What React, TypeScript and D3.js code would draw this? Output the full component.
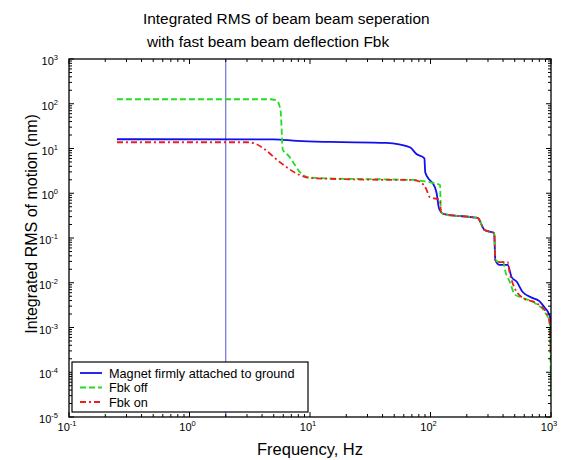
import React from "react";
import * as d3 from "d3";

const titleLines = ["Integrated RMS of beam beam seperation", "with fast beam beam deflection Fbk"];
const xLabel = "Frequency, Hz";
const yLabel = "Integrated RMS of motion (nm)";
const xDecades = [-1, 0, 1, 2, 3];
const yDecades = [-5, -4, -3, -2, -1, 0, 1, 2, 3];
const markerFreq = 2;

const seriesNames = ["Magnet firmly attached to ground", "Fbk off", "Fbk on"];

const blueData: [number, number][] = [
  [0.25, 16.1], [5, 16.0], [7.8, 14.8], [15, 14.0], [43, 13.3], [55, 12.3], [68, 10.5], [77, 7.4],
  [86, 6.5], [89, 6.0], [90.5, 2.9], [98, 2.0], [104, 1.7], [112, 1.05], [118, 0.45], [130, 0.34],
  [175, 0.31], [246, 0.28], [281, 0.151], [338, 0.129], [345, 0.032], [375, 0.025], [437, 0.025],
  [471, 0.0134], [520, 0.0105], [582, 0.0062], [700, 0.0046], [800, 0.0039], [885, 0.0028],
  [970, 0.0019], [995, 0.0014], [1000, 0.0007],
];

const greenData: [number, number][] = [
  [0.25, 126], [4.65, 126], [5.3, 118], [5.7, 70], [5.95, 9.3], [6.6, 7.0], [8.7, 2.56], [10, 2.25],
  [14, 2.15], [40, 2.05], [71, 1.98], [100, 1.75], [120, 1.53], [122, 0.38], [136, 0.33],
  [175, 0.31], [246, 0.28], [281, 0.151], [338, 0.129], [345, 0.032], [375, 0.029], [400, 0.029],
  [420, 0.017], [455, 0.0105], [500, 0.0055], [582, 0.0046], [760, 0.0033], [900, 0.0021],
  [973, 0.0013], [1000, 0.00003],
];

const redData: [number, number][] = [
  [0.25, 13.8], [3.0, 13.8], [3.6, 12.5], [4.06, 10.3], [5.6, 5.0], [8.2, 2.56], [10, 2.19],
  [40, 2.0], [71, 1.98], [82, 1.8], [93, 1.18], [98.5, 0.82], [120, 0.71], [122, 0.38], [136, 0.33],
  [175, 0.31], [246, 0.28], [281, 0.151], [338, 0.129], [345, 0.032], [375, 0.029], [437, 0.029],
  [454, 0.0165], [480, 0.0099], [582, 0.0046], [760, 0.0035], [920, 0.0021], [973, 0.0013],
  [1000, 0.0002],
];

const W = 562, H = 460;
const L = 69, R = 551, T = 59, B = 417;

export default function App() {
  const x = d3.scaleLog().domain([0.1, 1000]).range([L, R]);
  const y = d3.scaleLog().domain([1e-5, 1e3]).range([B, T]);
  const line = d3.line<[number, number]>().x(d => x(d[0])).y(d => y(d[1])).curve(d3.curveMonotoneX);

  const xMinor: number[] = [];
  xDecades.slice(0, -1).forEach(e => { for (let k = 2; k <= 9; k++) xMinor.push(k * Math.pow(10, e)); });
  const yMinor: number[] = [];
  yDecades.slice(0, -1).forEach(e => { for (let k = 2; k <= 9; k++) yMinor.push(k * Math.pow(10, e)); });

  const font = "Liberation Sans, Arial, sans-serif";
  const series = [
    { data: blueData, color: "#1010ee", dash: "none", w: 1.8 },
    { data: greenData, color: "#22dd22", dash: "6,3", w: 1.8 },
    { data: redData, color: "#ee1c1c", dash: "6,3,2,3", w: 1.8 },
  ];

  return (
    <svg width={W} height={H} style={{ position: "absolute", left: 0, top: 0, background: "#fff" }} fontFamily={font}>
      <rect x={0} y={0} width={W} height={H} fill="#fff" />
      <text x={143} y={24} fontSize={15.4}>{titleLines[0]}</text>
      <text x={147} y={47} fontSize={15.4}>{titleLines[1]}</text>

      <defs>
        <clipPath id="plotclip"><rect x={L} y={T} width={R - L} height={B - T} /></clipPath>
      </defs>

      <line x1={x(markerFreq)} x2={x(markerFreq)} y1={T} y2={B} stroke="#5555cc" strokeWidth={1} />

      <g clipPath="url(#plotclip)">
        {series.map((s, i) => (
          <path key={i} d={line(s.data) || ""} fill="none" stroke={s.color} strokeWidth={s.w}
            strokeDasharray={s.dash === "none" ? undefined : s.dash} strokeLinejoin="round" />
        ))}
      </g>

      {/* ticks */}
      <g stroke="#000" strokeWidth={1}>
        {xDecades.map(e => {
          const px = x(Math.pow(10, e));
          return <g key={"xM" + e}><line x1={px} x2={px} y1={B} y2={B - 5} /><line x1={px} x2={px} y1={T} y2={T + 5} /></g>;
        })}
        {xMinor.map((v, i) => {
          const px = x(v);
          return <g key={"xm" + i}><line x1={px} x2={px} y1={B} y2={B - 3} /><line x1={px} x2={px} y1={T} y2={T + 3} /></g>;
        })}
        {yDecades.map(e => {
          const py = y(Math.pow(10, e));
          return <g key={"yM" + e}><line x1={L} x2={L + 5} y1={py} y2={py} /><line x1={R} x2={R - 5} y1={py} y2={py} /></g>;
        })}
        {yMinor.map((v, i) => {
          const py = y(v);
          return <g key={"ym" + i}><line x1={L} x2={L + 3} y1={py} y2={py} /><line x1={R} x2={R - 3} y1={py} y2={py} /></g>;
        })}
      </g>
      <rect x={L} y={T} width={R - L} height={B - T} fill="none" stroke="#000" strokeWidth={1.3} />

      {/* tick labels */}
      {xDecades.map(e => (
        <text key={"xl" + e} x={x(Math.pow(10, e)) - 2} y={431} fontSize={11} textAnchor="middle">
          10<tspan fontSize={7.5} dy={-5}>{e}</tspan>
        </text>
      ))}
      {yDecades.map(e => (
        <text key={"yl" + e} x={58} y={y(Math.pow(10, e)) + 6} fontSize={11} textAnchor="end">
          10<tspan fontSize={7.5} dy={-5}>{e}</tspan>
        </text>
      ))}

      <text x={310} y={455} fontSize={16.5} textAnchor="middle">{xLabel}</text>
      <text transform={`translate(37,224) rotate(-90)`} fontSize={16} textAnchor="middle">{yLabel}</text>

      {/* legend */}
      <g>
        <rect x={72} y={362} width={236} height={50} fill="#fff" stroke="#000" strokeWidth={1.2} />
        {series.map((s, i) => {
          const ly = 373 + i * 14.5;
          return (
            <g key={"lg" + i}>
              <line x1={80} x2={102} y1={ly} y2={ly} stroke={s.color} strokeWidth={s.w}
                strokeDasharray={s.dash === "none" ? undefined : s.dash} />
              <text x={109} y={ly + 4.5} fontSize={12.7}>{seriesNames[i]}</text>
            </g>
          );
        })}
      </g>
    </svg>
  );
}
